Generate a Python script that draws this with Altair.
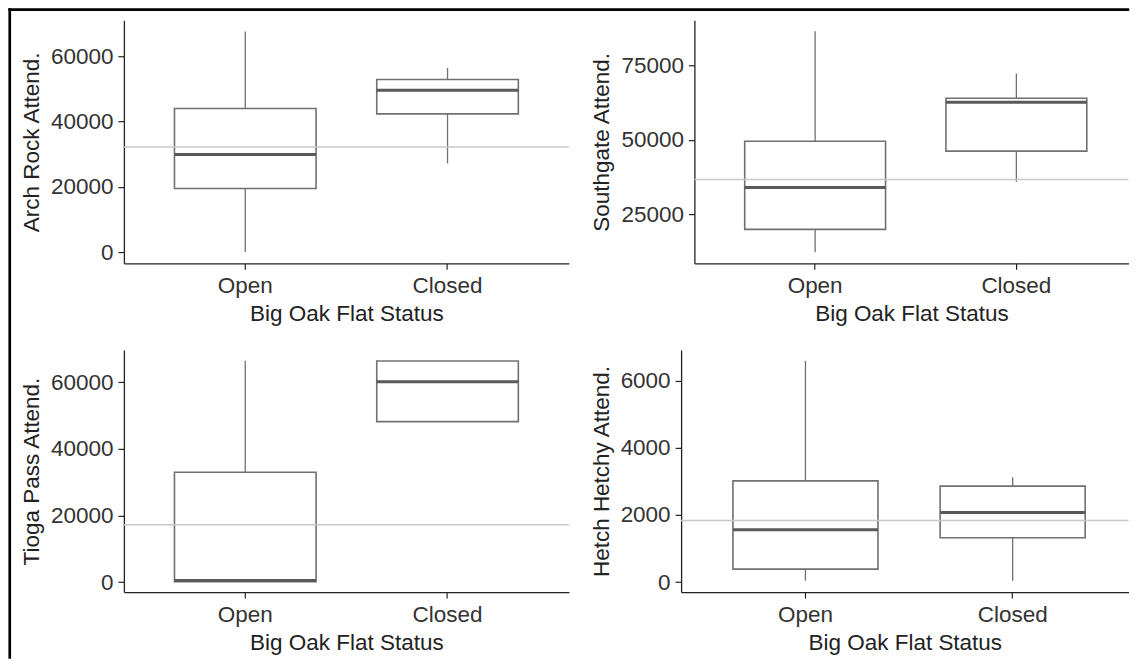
import altair as alt
import pandas as pd

# ---- data ----
statuses = ["Open", "Closed"]
panel_titles = ["Arch Rock Attend.", "Southgate Attend.", "Tioga Pass Attend.", "Hetch Hetchy Attend."]
whisker_low = [[100, 27200], [12300, 35930], [0, 48180], [40, 40]]
quartile_1 = [[19560, 42360], [20000, 46220], [100, 48180], [387, 1318]]
medians = [[29950, 49600], [34060, 62630], [500, 60180], [1557, 2071]]
quartile_3 = [[44010, 52870], [49560, 63970], [33000, 66400], [3015, 2857]]
whisker_high = [[67600, 56420], [86400, 72240], [66480, 66400], [6590, 3125]]
overall_mean = [32270, 36740, 17190, 1833]
y_domains = [[-3360, 71000], [8600, 90090], [-3000, 69700], [-298, 6914]]
y_ticks = [[0, 20000, 40000, 60000], [25000, 50000, 75000],
           [0, 20000, 40000, 60000], [0, 2000, 4000, 6000]]
x_title = "Big Oak Flat Status"

FONT = "Liberation Sans"
BOX = "#707070"
MED = "#595959"
MEAN = "#c8c8c8"


def panel(i, width, height, outer=0.25, align=0.5, frame=False):
    df = pd.DataFrame({
        "status": statuses,
        "lo": whisker_low[i],
        "q1": quartile_1[i],
        "med": medians[i],
        "q3": quartile_3[i],
        "hi": whisker_high[i],
    })
    mean_df = pd.DataFrame({"mean": [overall_mean[i]]})
    title = panel_titles[i]
    x = alt.X("status:N", sort=statuses, title=x_title,
              scale=alt.Scale(paddingInner=0.3, paddingOuter=outer, align=align),
              axis=alt.Axis(labelAngle=0))
    yscale = alt.Scale(domain=y_domains[i], nice=False, zero=False)
    yaxis = alt.Axis(values=y_ticks[i], format="d")
    base = alt.Chart(df)
    whisk = base.mark_rule(color=BOX, strokeWidth=1.3).encode(
        x=x,
        y=alt.Y("lo:Q", scale=yscale, axis=yaxis, title=title),
        y2=alt.Y2("hi:Q", title=title),
    )
    box = base.mark_bar(fill="white", stroke=BOX, strokeWidth=1.6).encode(
        x=x,
        y=alt.Y("q1:Q", title=title),
        y2=alt.Y2("q3:Q", title=title),
    )
    med = base.mark_bar(fill=MED, stroke=MED, strokeWidth=3).encode(
        x=x,
        y=alt.Y("med:Q", title=title),
        y2=alt.Y2("med:Q", title=title),
    )
    mean = alt.Chart(mean_df).mark_rule(color=MEAN, strokeWidth=1.5).encode(
        y=alt.Y("mean:Q", title=title)
    )
    layers = [whisk, box, med, mean]
    if frame:
        # outer figure border (decoration), drawn as filled rects so that
        # their bounds are exact
        fdf = pd.DataFrame({"k": [0]})
        left = alt.Chart(fdf).mark_rect(color="black").encode(
            x=alt.value(-115.6), x2=alt.value(-112.9),
            y=alt.value(-12), y2=alt.value(639)
        )
        top = alt.Chart(fdf).mark_rect(color="black").encode(
            x=alt.value(-115.6), x2=alt.value(1006.2),
            y=alt.value(-12), y2=alt.value(-9.3)
        )
        layers += [left, top]
    return alt.layer(*layers).properties(width=width, height=height)


p1 = panel(0, 445.4, 243.3, frame=True)
p2 = panel(1, 434.5, 243.3, outer=0.2287, align=0.5467)
p3 = panel(2, 445.4, 242.3)
p4 = panel(3, 447.8, 242.3, outer=0.2296, align=0.5447)

row1 = alt.hconcat(p1, p2, spacing=125, bounds="flush")
row2 = alt.hconcat(p3, p4, spacing=111.7, bounds="flush")

chart = (
    alt.vconcat(row1, row2, spacing=330, bounds="flush")
    .properties(padding=0, background="white")
    .configure_view(stroke=None)
    .configure_axis(
        labelFont=FONT, titleFont=FONT,
        labelFontSize=22.5, titleFontSize=22.5,
        labelColor="#333333", titleColor="#222222",
        titleFontWeight="normal",
        domainColor="#222222", domainWidth=1.3,
        tickColor="#222222", tickWidth=1.2, tickSize=6,
        labelPadding=5, grid=False,
    )
    .configure_axisX(labelPadding=5.5, titlePadding=5.5)
    .configure_axisY(titlePadding=7)
)

chart.save("out.html", embed_options={"renderer": "svg", "actions": False})
